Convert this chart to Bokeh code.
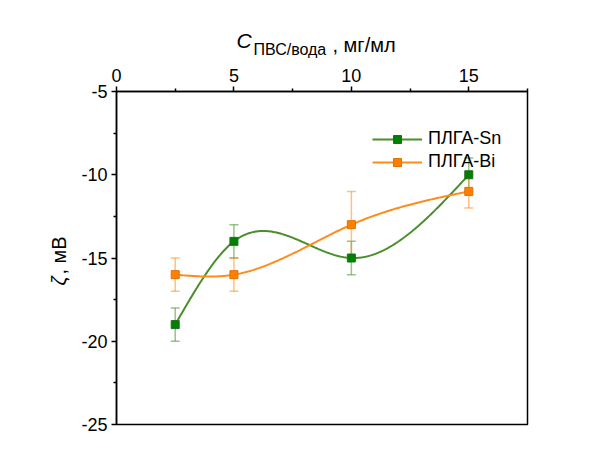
import numpy as np
from bokeh.plotting import figure
from bokeh.models import (Range1d, FixedTicker, ColumnDataSource,
                          Whisker, TeeHead, Legend, LegendItem, Label)
from bokeh.embed import file_html
from bokeh.resources import INLINE

# PVA concentration, mg/ml
conc = [2.5, 5, 10, 15]
# zeta potential, mV
zeta_sn = [-19, -14, -15, -10]
err_sn = [1, 1, 1, 1]
zeta_bi = [-16, -16, -13, -11]
err_bi = [1, 1, 2, 1]
series_names = ["ПЛГА-Sn", "ПЛГА-Bi"]
x_ticks = [0, 5, 10, 15]
x_minor = [2.5, 7.5, 12.5, 17.5]
y_ticks = [-25, -20, -15, -10, -5]
y_minor = [-22.5, -17.5, -12.5, -7.5]

W, H = 597, 457
FL, FR, FT, FB = 116, 527, 91, 424
X0, X1 = 0, 17.5
Y0, Y1 = -25, -5
FONT = "Liberation Sans"
LINE_H = 1.117          # ascent + descent of Liberation Sans, in em
TICK_FS = 18
Y_AXIS_W = 34           # ticks + standoff + widest y tick label, px
X_AXIS_H = 5 + 5 + TICK_FS * LINE_H   # ticks + standoff + tick label line


def natural_spline(x, y, n=300):
    x = np.asarray(x, float)
    y = np.asarray(y, float)
    h = np.diff(x)
    m = len(x)
    A = np.zeros((m - 2, m - 2))
    b = np.zeros(m - 2)
    for i in range(1, m - 1):
        r = i - 1
        if r > 0:
            A[r, r - 1] = h[i - 1]
        A[r, r] = 2 * (h[i - 1] + h[i])
        if r < m - 3:
            A[r, r + 1] = h[i]
        b[r] = 6 * ((y[i + 1] - y[i]) / h[i] - (y[i] - y[i - 1]) / h[i - 1])
    M = np.zeros(m)
    M[1:-1] = np.linalg.solve(A, b)
    xs = np.linspace(x[0], x[-1], n)
    ys = np.empty_like(xs)
    for k, t in enumerate(xs):
        i = min(np.searchsorted(x, t, side="right") - 1, m - 2)
        hi = h[i]
        a = (x[i + 1] - t) / hi
        c = (t - x[i]) / hi
        ys[k] = (a * y[i] + c * y[i + 1]
                 + ((a ** 3 - a) * M[i] + (c ** 3 - c) * M[i + 1]) * hi ** 2 / 6)
    return xs, ys


p = figure(width=W, height=H, output_backend="svg", toolbar_location=None,
           x_range=Range1d(X0, X1), y_range=Range1d(Y0, Y1),
           x_axis_location="above",
           min_border_left=FL, min_border_right=W - FR,
           min_border_top=FT, min_border_bottom=H - FB)
p.grid.visible = False
p.background_fill_color = "white"
p.border_fill_color = "white"
p.outline_line_color = "black"
p.outline_line_width = 1.5

for ax in (p.xaxis[0], p.yaxis[0]):
    ax.axis_line_width = 1.5
    ax.major_tick_line_width = 1.5
    ax.minor_tick_line_width = 1.5
    ax.major_tick_out = 5
    ax.major_tick_in = 0
    ax.minor_tick_out = 3
    ax.minor_tick_in = 0
    ax.major_label_text_font = FONT
    ax.major_label_text_font_size = f"{TICK_FS}px"
    ax.major_label_text_color = "black"

p.xaxis[0].ticker = FixedTicker(ticks=x_ticks, minor_ticks=x_minor)
p.yaxis[0].ticker = FixedTicker(ticks=y_ticks, minor_ticks=y_minor)
p.xaxis[0].major_label_overrides = {t: str(t) for t in x_ticks}
p.yaxis[0].major_label_overrides = {t: str(t) for t in y_ticks}
p.xaxis[0].major_label_standoff = 5
p.yaxis[0].major_label_standoff = 4

colors = [("#4b8e2c", "#008000", "#1f6e1f"), ("#ff8c1a", "#ff8000", "#e07000")]
items = []
for name, ys, es, (lc, fc, ec) in zip(series_names, [zeta_sn, zeta_bi], [err_sn, err_bi], colors):
    src = ColumnDataSource(dict(x=conc, y=ys,
                                lo=[v - e for v, e in zip(ys, es)],
                                hi=[v + e for v, e in zip(ys, es)]))
    wh = Whisker(source=src, base="x", upper="hi", lower="lo",
                 line_color=lc, line_alpha=0.55, line_width=1.5,
                 upper_head=TeeHead(size=9, line_color=lc, line_alpha=0.55, line_width=1.5),
                 lower_head=TeeHead(size=9, line_color=lc, line_alpha=0.55, line_width=1.5))
    p.add_layout(wh)
    sx, sy = natural_spline(conc, ys)
    ln = p.line(sx, sy, line_color=lc, line_width=2)
    sc = p.scatter("x", "y", source=src, marker="square", size=8,
                   fill_color=fc, line_color=ec, line_width=1)
    items.append(LegendItem(label=name, renderers=[ln, sc]))

leg = Legend(items=items, location=(372 - FL, FB - 172),
             padding=0, margin=0, spacing=2,
             glyph_width=50, glyph_height=20, label_height=20,
             label_standoff=6, border_line_color=None,
             background_fill_alpha=0,
             label_text_font=FONT, label_text_font_size="18px",
             label_text_color="black")
p.add_layout(leg)


def title_piece(text, sx, sy, size, style, angle=0.0):
    return Label(x=sx, y=sy, x_units="screen", y_units="screen",
                 text=text, text_font=FONT, text_font_size=f"{size}px",
                 text_font_style=style, text_baseline="alphabetic",
                 text_align="left", angle=angle, text_color="black")


# Axis titles are drawn from side panels (labels in the centre are clipped
# to the frame).  Each label panel is one text line thick and panels stack
# outwards from the frame, so offsets are taken from each panel's corner.

# top title "C_ПВС/вода, мг/мл"
# the italic C sits in a panel under the frame
below_bottom = FB + 21 * LINE_H
p.add_layout(title_piece("C", 236 - FL, below_bottom - 40, 21, "italic"), "below")
# subscript and units sit in panels stacked above the x axis
panel_bottom = FT - X_AXIS_H
for text, xp, yp, size in [("ПВС/вода", 253, 45, 16), (", мг/мл", 332, 40, 20)]:
    p.add_layout(title_piece(text, xp - FL, panel_bottom - yp, size, "normal"), "above")
    panel_bottom -= size * LINE_H

# left title "ζ, мВ", rotated, stacked outside the y axis
left_edge = FL - Y_AXIS_W
for text, xp, yp, style in [("ζ", 62, 285, "italic"), (", мВ", 62, 274, "normal")]:
    left_edge -= 20 * LINE_H
    p.add_layout(title_piece(text, xp - left_edge, FB - yp, 20, style, np.pi / 2), "left")

open("out.html", "w").write(file_html(p, INLINE))
